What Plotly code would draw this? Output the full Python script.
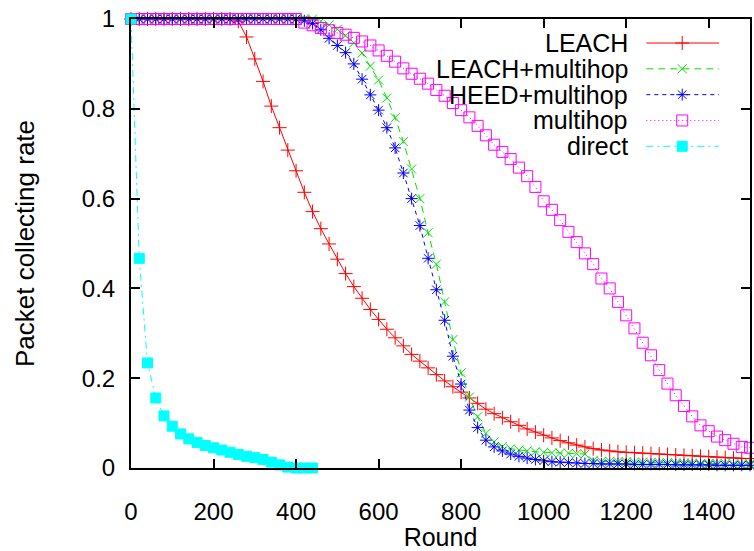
import plotly.graph_objects as go

# ---------------- data ----------------
rounds = list(range(0, 1501, 20))

leach = [1.0, 1.0, 1.0, 1.0, 1.0, 1.0, 1.0, 1.0, 1.0, 1.0, 1.0, 1.0, 1.0,
         0.995, 0.960, 0.911, 0.861, 0.806, 0.758, 0.708, 0.662, 0.614, 0.571,
         0.533, 0.499, 0.465, 0.433, 0.404, 0.378, 0.353, 0.331, 0.309, 0.290,
         0.272, 0.253, 0.238, 0.223, 0.208, 0.194, 0.181, 0.169, 0.156, 0.144,
         0.131, 0.121, 0.112, 0.103, 0.095, 0.087, 0.080, 0.073, 0.067, 0.061,
         0.056, 0.051, 0.047, 0.043, 0.040, 0.038, 0.036, 0.035, 0.034, 0.033,
         0.032, 0.031, 0.030, 0.029, 0.028, 0.027, 0.026, 0.025, 0.024, 0.023,
         0.022, 0.021, 0.021]

leach_multihop = [1.0, 1.0, 1.0, 1.0, 1.0, 1.0, 1.0, 1.0, 1.0, 1.0, 1.0, 1.0,
                  1.0, 1.0, 1.0, 1.0, 1.0, 1.0, 1.0, 1.0, 1.0, 1.0, 1.0,
                  0.995, 0.987, 0.977, 0.963, 0.947, 0.924, 0.895, 0.864, 0.824,
                  0.780, 0.727, 0.666, 0.600, 0.524, 0.454, 0.370, 0.286, 0.212,
                  0.158, 0.114, 0.077, 0.058, 0.048, 0.043, 0.040, 0.038, 0.036,
                  0.035, 0.034, 0.033, 0.033, 0.032, 0.031,
                  0.016, 0.015, 0.015, 0.014, 0.014, 0.013, 0.013, 0.012, 0.012,
                  0.012, 0.011, 0.011, 0.011, 0.010, 0.010, 0.010, 0.010, 0.009,
                  0.009, 0.009]

heed_multihop = [1.0, 1.0, 1.0, 1.0, 1.0, 1.0, 1.0, 1.0, 1.0, 1.0, 1.0, 1.0,
                 1.0, 1.0, 1.0, 1.0, 1.0, 1.0, 1.0, 1.0, 1.0,
                 0.996, 0.990, 0.976, 0.957, 0.941, 0.925, 0.900, 0.866, 0.831,
                 0.797, 0.758, 0.713, 0.657, 0.600, 0.540, 0.467, 0.397, 0.329,
                 0.249, 0.187, 0.129, 0.090, 0.062, 0.047, 0.038, 0.031, 0.026,
                 0.022, 0.019, 0.016, 0.014, 0.013, 0.012, 0.011, 0.010,
                 0.010, 0.009, 0.009, 0.009, 0.009, 0.008, 0.008, 0.008, 0.008,
                 0.008, 0.007, 0.007, 0.007, 0.007, 0.007, 0.006, 0.006, 0.006,
                 0.006, 0.006]

multihop = [1.0, 1.0, 1.0, 1.0, 1.0, 1.0, 1.0, 1.0, 1.0, 1.0, 1.0, 1.0, 1.0,
            1.0, 1.0, 1.0, 1.0, 1.0, 1.0, 1.0, 1.0,
            0.992, 0.986, 0.980, 0.975, 0.969, 0.965, 0.958, 0.950, 0.941,
            0.930, 0.918, 0.905, 0.890, 0.878, 0.867, 0.856, 0.842, 0.829,
            0.813, 0.797, 0.781, 0.762, 0.741, 0.720, 0.704, 0.688, 0.669,
            0.650, 0.626, 0.594, 0.575, 0.552, 0.526, 0.503, 0.478, 0.454,
            0.422, 0.400, 0.370, 0.340, 0.311, 0.279, 0.251, 0.218, 0.188,
            0.162, 0.138, 0.115, 0.095, 0.082, 0.070, 0.062, 0.054, 0.047,
            0.045]

direct_rounds = list(range(0, 441, 20))
direct = [1.0, 0.467, 0.234, 0.156, 0.116, 0.093, 0.076, 0.065, 0.057, 0.050,
          0.045, 0.040, 0.035, 0.030, 0.026, 0.023, 0.019, 0.013, 0.007, 0.002,
          0.0, 0.0, 0.0]

series_names = ["LEACH", "LEACH+multihop", "HEED+multihop", "multihop", "direct"]

# ---------------- styles ----------------
FONT = "Liberation Sans, Arial, Helvetica, sans-serif"
styles = [
    dict(color="#ff0000", dash="solid", symbol="cross-thin", size=10),
    dict(color="#00e000", dash="7px,5px", symbol="x-thin", size=9),
    dict(color="#0000ff", dash="4px,4px", symbol="asterisk", size=10),
    dict(color="#ff00ff", dash="1px,3px", symbol="square-open", size=11),
    dict(color="#00ffff", dash="7px,4px,2px,4px", symbol="square", size=10),
]
series_x = [rounds, rounds, rounds, rounds, direct_rounds]
series_y = [leach, leach_multihop, heed_multihop, multihop, direct]

fig = go.Figure()
for name, xs, ys, st in zip(series_names, series_x, series_y, styles):
    fig.add_trace(go.Scatter(
        x=xs, y=ys, name=name, mode="lines+markers", cliponaxis=False,
        line=dict(color=st["color"], width=1, dash=st["dash"]),
        marker=dict(symbol=st["symbol"], size=st["size"], color=st["color"],
                    line=dict(color=st["color"], width=1)),
        showlegend=False,
    ))

# ---------------- gnuplot-style key (text left, sample right) ----------------
KEY_TEXT_X = 0.805
KEY_LINE_X0, KEY_LINE_X1 = 0.8325, 0.950
KEY_MARK_X = 0.8905
KEY_TOP, KEY_STEP = 0.9465, 0.0575
for i, (name, st) in enumerate(zip(series_names, styles)):
    ky = KEY_TOP - i * KEY_STEP
    fig.add_trace(go.Scatter(
        x=[KEY_LINE_X0, KEY_LINE_X1], y=[ky, ky], xaxis="x2", yaxis="y2",
        mode="lines", line=dict(color=st["color"], width=1, dash=st["dash"]),
        showlegend=False, hoverinfo="skip"))
    fig.add_trace(go.Scatter(
        x=[KEY_MARK_X], y=[ky], xaxis="x2", yaxis="y2", mode="markers",
        marker=dict(symbol=st["symbol"], size=st["size"], color=st["color"],
                    line=dict(color=st["color"], width=1)),
        showlegend=False, hoverinfo="skip"))
    fig.add_annotation(x=KEY_TEXT_X, y=ky, xref="x2", yref="y2", text=name,
                       showarrow=False, xanchor="right", yanchor="middle",
                       borderpad=0,
                       font=dict(family=FONT, size=25, color="black"))

axis_common = dict(
    showline=True, linecolor="black", linewidth=2, mirror="allticks",
    ticks="inside", ticklen=9, tickwidth=1.5, tickcolor="black",
    showgrid=False, zeroline=False,
    tickfont=dict(family=FONT, size=24, color="black"),
)

fig.update_layout(
    width=754, height=551,
    margin=dict(l=131, r=2, t=19, b=83),
    paper_bgcolor="white", plot_bgcolor="white",
    xaxis=dict(range=[0, 1500], tick0=0, dtick=200, ticklabelstandoff=21,
               title=dict(text="Round", font=dict(family=FONT, size=25, color="black"),
                          standoff=1),
               **axis_common),
    yaxis=dict(range=[0, 1], tick0=0, dtick=0.2, ticklabelstandoff=9,
               title=dict(text="Packet collecting rate",
                          font=dict(family=FONT, size=26, color="black"),
                          standoff=40),
               **axis_common),
    xaxis2=dict(range=[0, 1], overlaying="x", visible=False, fixedrange=True),
    yaxis2=dict(range=[0, 1], overlaying="y", visible=False, fixedrange=True),
    showlegend=False,
)

fig.write_html("out.html")
